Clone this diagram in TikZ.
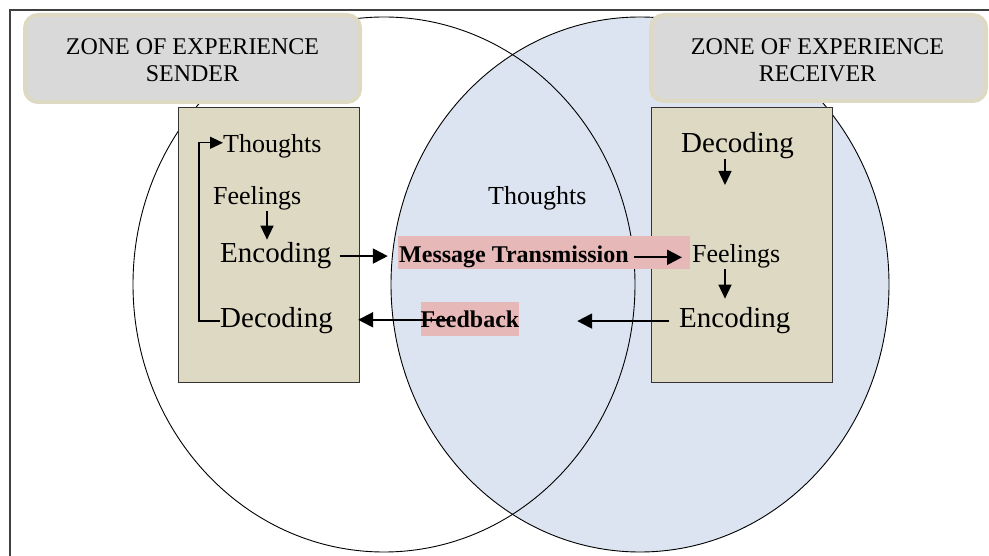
\documentclass[tikz,border=0pt]{standalone}
\usepackage{fontspec}
\setmainfont{Liberation Serif}
\usetikzlibrary{arrows.meta}
\definecolor{ellblue}{HTML}{DBE4F0}
\definecolor{beige}{HTML}{DDD9C3}
\definecolor{hdrgray}{HTML}{D9D9D9}
\definecolor{pinkbox}{HTML}{E6B8B7}
\definecolor{framegray}{HTML}{404040}
\begin{document}
\begin{tikzpicture}[x=1pt,y=-1pt,
 hdrbox/.style={draw=beige, line width=4pt, fill=hdrgray, rounded corners=13pt, inner sep=0pt},
 zonebox/.style={draw=black!80, line width=1.3pt, fill=beige, inner sep=0pt},
 hltbox/.style={fill=pinkbox, inner sep=0pt},
 word/.style={anchor=base west, inner sep=0pt, font=\fontsize{26}{30}\selectfont},
 bigword/.style={anchor=base west, inner sep=0pt, font=\fontsize{29}{33}\selectfont},
 boldword/.style={anchor=base west, inner sep=0pt, font=\fontsize{24}{27}\selectfont\bfseries},
 hdrtext/.style={align=center, inner sep=0pt, font=\fontsize{24}{27}\selectfont},
 ellline/.style={draw=black, line width=0.9pt},
 arr/.style={-{Triangle[length=14pt,width=13pt]}, line width=1.4pt},
 arrthick/.style={-{Triangle[length=15pt,width=15pt]}, line width=2pt},
]
\useasboundingbox (0,0) rectangle (989,556);
\fill[white] (0,0) rectangle (989,556);

% frame
\draw[framegray, line width=1.5pt] (10,556) -- (10,10) -- (989,10);

% ellipses
\fill[ellblue] (640,284.5) ellipse [x radius=249pt, y radius=267.5pt];
\draw[ellline] (384,284.5) ellipse [x radius=251pt, y radius=267.5pt];
\draw[ellline] (640,284.5) ellipse [x radius=249pt, y radius=267.5pt];

% headers
\node[hdrbox, minimum width=335pt, minimum height=87pt] (hdrL) at (192.5,58.5) {};
\node[hdrtext] (hdrLt) at (192.5,60.5) {ZONE OF EXPERIENCE\\SENDER};
\node[hdrbox, minimum width=335pt, minimum height=86pt] (hdrR) at (818.5,58) {};
\node[hdrtext] (hdrRt) at (817.5,60.5) {ZONE OF EXPERIENCE\\RECEIVER};

% zone boxes
\node[zonebox, minimum width=181pt, minimum height=275pt] (boxL) at (269,245) {};
\node[zonebox, minimum width=181pt, minimum height=275pt] (boxR) at (742,245) {};

% highlight boxes
\node[hltbox, minimum width=292pt, minimum height=33pt] (msgBox) at (544,252.5) {};
\node[hltbox, minimum width=98pt, minimum height=34pt] (fbBox) at (470,319) {};

% texts
\node[word] (thL) at (223,153) {Thoughts};
\node[word] (fL) at (213,205) {Feelings};
\node[bigword] (encL) at (220,263) {Encoding};
\node[bigword] (decL) at (220,328) {Decoding};
\node[word] (thM) at (488,205) {Thoughts};
\node[boldword] (msgT) at (399,263) {Message Transmission};
\node[boldword, anchor=base] (fbT) at (470,328) {Feedback};
\node[bigword] (decR) at (681,153) {Decoding};
\node[word] (fR) at (692,263) {Feelings};
\node[bigword] (encR) at (679,328) {Encoding};

% arrows
\draw[arr, line width=1.2pt, -{Triangle[length=13pt,width=12pt]}] (decL.west) -- ++(-21,0) |- ([yshift=4pt]thL.west);
\draw[arr, shorten >=3pt] (fL.south -| 267,0) -- (encL.north -| 267,0);
\draw[arrthick, shorten <=8pt, shorten >=10pt] (encL.east) -- (msgBox.west |- encL.east);
\draw[arrthick, shorten <=5pt, shorten >=10pt] (msgT.east) -- (fR.west |- msgT.east);
\draw[arrthick, shorten >=25pt] ([xshift=-20pt]fbT.center) -- (decL.east |- fbT.center);
\draw[arrthick, shorten <=10pt, shorten >=58pt] (encR.west) -- (fbBox.east |- encR.west);
\coordinate (decRend) at (725,185);
\draw[arr] (decR.south -| decRend) -- (decRend);
\draw[arr, shorten >=9pt] (fR.south -| 725,0) -- (encR.north -| 725,0);
\end{tikzpicture}
\end{document}
